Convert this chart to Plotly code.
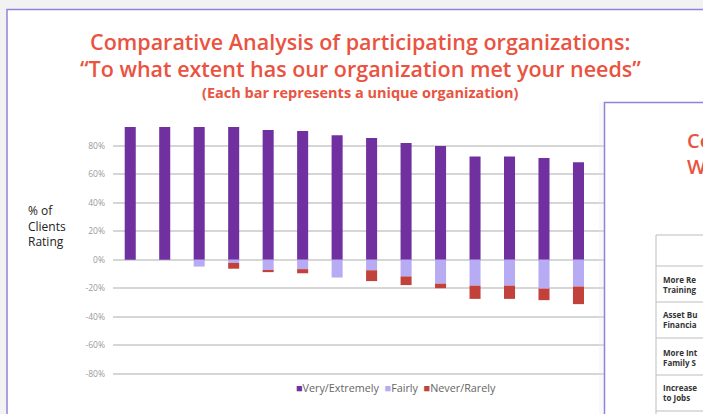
import plotly.graph_objects as go

# ---- data ----
orgs = [f"Org {i}" for i in range(1, 15)]
very_extremely = [100, 100, 95, 93.7, 91.2, 90.5, 87.5, 85.5, 82.1, 80.0, 72.5, 72.5, 71.6, 68.5]
fairly = [0, 0, 4.8, 2.2, 7.3, 6.6, 12.5, 7.4, 11.7, 16.8, 18.2, 18.2, 20.3, 18.8]
never_rarely = [0, 0, 0, 4.1, 1.4, 2.9, 0, 7.6, 6.1, 3.2, 9.3, 9.3, 8.1, 12.4]
tick_vals = [-80, -60, -40, -20, 0, 20, 40, 60, 80]
tick_text = ["-80%", "-60%", "-40%", "-20%", "0%", "20%", "40%", "60%", "80%"]
series_names = ["Very/Extremely", "Fairly", "Never/Rarely"]

PURPLE = "#7030a0"
LILAC = "#b7abf4"
RED = "#c2413b"
TITLE_RED = "#e9533f"
FONT = "Open Sans"

W, H = 703, 414
L, R, T, B = 113, 99, 127, 39
PW, PH = W - L - R, H - T - B


def px(x):
    return (x - L) / PW


def py(y):
    return (H - B - y) / PH


fig = go.Figure()
fig.add_bar(x=orgs, y=very_extremely, name=series_names[0], marker_color=PURPLE, width=0.32)
fig.add_bar(x=orgs, y=[-v for v in fairly], name=series_names[1], marker_color=LILAC, width=0.32)
fig.add_bar(x=orgs, y=[-v for v in never_rarely], name=series_names[2], marker_color=RED, width=0.32)

fig.update_traces(marker_line_width=0, hoverinfo="skip")

fig.update_layout(
    width=W, height=H,
    margin=dict(l=L, r=R, t=T, b=B, pad=0),
    barmode="relative",
    showlegend=False,
    paper_bgcolor="#f2f2f2",
    plot_bgcolor="rgba(0,0,0,0)",
    font=dict(family=FONT, color="#333"),
)
fig.update_xaxes(range=[-0.5, -0.5 + PW / 34.48], showticklabels=False, showgrid=False,
                 zeroline=False, showline=False, fixedrange=True)
fig.update_yaxes(range=[-81, 93.3], tickvals=tick_vals, ticktext=tick_text,
                 showgrid=True, gridcolor="#d6d6d6", gridwidth=1.5,
                 zeroline=True, zerolinecolor="#d6d6d6", zerolinewidth=1.5,
                 tickfont=dict(size=8.5, color="#9a9a9a", family=FONT),
                 ticks="", ticklabelstandoff=7, showline=False, fixedrange=True)

shapes = []
# main slide
shapes.append(dict(type="rect", xref="paper", yref="paper", layer="below",
                   x0=px(7), x1=px(720), y0=py(9.5), y1=py(430),
                   fillcolor="white", line=dict(color="#8f84dc", width=1.5)))
# overlapping slide on the right
shapes.append(dict(type="rect", xref="paper", yref="paper", layer="above",
                   x0=px(599), x1=px(604), y0=py(102), y1=py(430),
                   fillcolor="rgba(230,230,230,0.25)", line=dict(width=0)))
shapes.append(dict(type="rect", xref="paper", yref="paper", layer="above",
                   x0=px(604.5), x1=px(720), y0=py(102.5), y1=py(430),
                   fillcolor="white", line=dict(color="#8f84dc", width=1.5)))
# table in the overlapping slide
shapes.append(dict(type="line", xref="paper", yref="paper", layer="above",
                   x0=px(656), x1=px(656), y0=py(235), y1=py(430),
                   line=dict(color="#bdbdbd", width=1)))
for yy in [235, 266, 302, 338, 375, 411]:
    shapes.append(dict(type="line", xref="paper", yref="paper", layer="above",
                       x0=px(656), x1=px(720), y0=py(yy), y1=py(yy),
                       line=dict(color="#bdbdbd", width=1)))

ann = []
ann.append(dict(text="Comparative Analysis of participating organizations:",
                x=px(360), y=py(41.5), xref="paper", yref="paper", showarrow=False,
                font=dict(size=21.5, color=TITLE_RED, family=FONT, weight=600),
                xanchor="center", yanchor="middle"))
ann.append(dict(text="\u201cTo what extent has our organization met your needs\u201d",
                x=px(360), y=py(68.5), xref="paper", yref="paper", showarrow=False,
                font=dict(size=21.5, color=TITLE_RED, family=FONT, weight=600),
                xanchor="center", yanchor="middle"))
ann.append(dict(text="(Each bar represents a unique organization)",
                x=px(360), y=py(92.5), xref="paper", yref="paper", showarrow=False,
                font=dict(size=14.5, color=TITLE_RED, family=FONT, weight=700),
                xanchor="center", yanchor="middle"))
ann.append(dict(text="% of<br>Clients<br>Rating", x=px(26), y=py(226), xref="paper", yref="paper",
                showarrow=False, align="left", xanchor="left", yanchor="middle",
                font=dict(size=12, color="#222", family=FONT)))
legend_txt = (f"<span style='color:{PURPLE}'>■</span>{series_names[0]}  "
              f"<span style='color:{LILAC}'>■</span>{series_names[1]}  "
              f"<span style='color:{RED}'>■</span>{series_names[2]}")
ann.append(dict(text=legend_txt, x=px(396), y=py(387), xref="paper", yref="paper", showarrow=False,
                xanchor="center", yanchor="middle", font=dict(size=10.8, color="#666", family=FONT)))
# right slide texts (only the visible fragments)
ann.append(dict(text="Co<br>W", x=px(685), y=py(153), xref="paper", yref="paper", showarrow=False,
                xanchor="left", yanchor="middle", align="left",
                font=dict(size=20, color=TITLE_RED, family=FONT, weight=600)))
rows = [("More Re", "Training", 284), ("Asset Bu", "Financia", 319),
        ("More Int", "Family S", 357), ("Increase", "to Jobs", 393)]
for a, b_, yy in rows:
    ann.append(dict(text=f"{a}<br>{b_}", x=px(661), y=py(yy), xref="paper", yref="paper",
                    showarrow=False, xanchor="left", yanchor="middle", align="left",
                    font=dict(size=8, color="#333", family=FONT, weight=700)))

fig.update_layout(shapes=shapes, annotations=ann)
fig.write_html("out.html", post_script="document.body.style.margin='0';",
               config={"displayModeBar": False})
